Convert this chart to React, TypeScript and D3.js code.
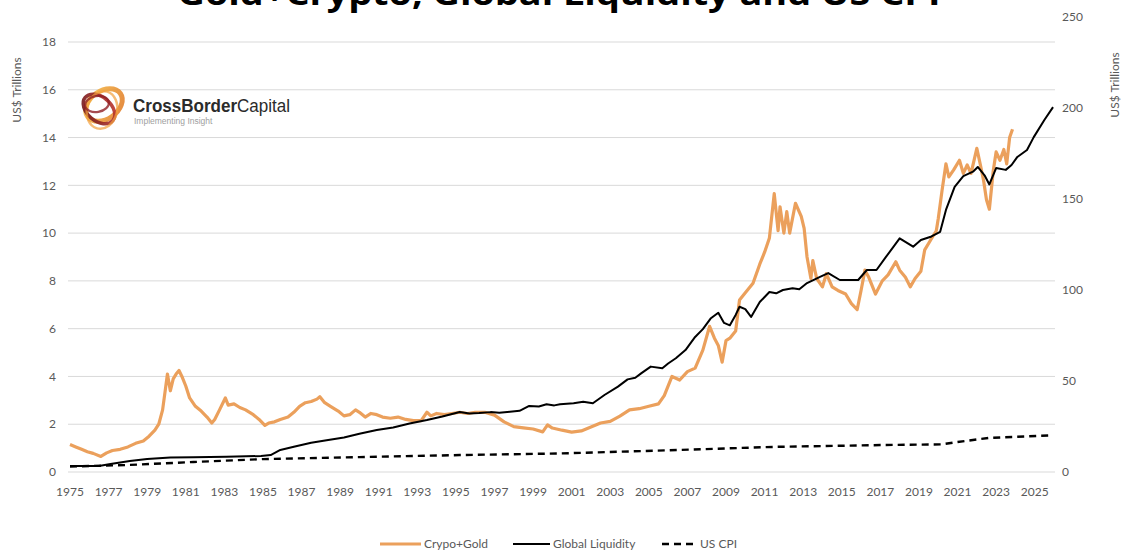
import React from "react";
import * as d3 from "d3";

// Crypto + gold market value, US$ trillions (left axis)
const cryptoGold: [number, number][] = [
  [1975.0, 1.15], [1975.3, 1.05], [1975.6, 0.95], [1975.9, 0.85], [1976.2, 0.78], [1976.6, 0.65],
  [1976.9, 0.8], [1977.2, 0.9], [1977.6, 0.95], [1978.0, 1.05], [1978.4, 1.2], [1978.8, 1.3],
  [1979.1, 1.5], [1979.4, 1.75], [1979.6, 2.0], [1979.8, 2.6], [1979.95, 3.5], [1980.05, 4.1],
  [1980.2, 3.4], [1980.35, 3.9], [1980.5, 4.1], [1980.65, 4.25], [1980.8, 4.0], [1981.0, 3.6],
  [1981.2, 3.1], [1981.5, 2.75], [1981.8, 2.55], [1982.1, 2.3], [1982.35, 2.05], [1982.5, 2.2],
  [1982.75, 2.6], [1983.05, 3.1], [1983.2, 2.8], [1983.5, 2.85], [1983.8, 2.7], [1984.1, 2.6],
  [1984.5, 2.4], [1984.8, 2.2], [1985.1, 1.95], [1985.3, 2.05], [1985.6, 2.1], [1985.9, 2.2],
  [1986.3, 2.3], [1986.6, 2.5], [1986.9, 2.75], [1987.2, 2.9], [1987.5, 2.95], [1987.8, 3.05],
  [1987.95, 3.15], [1988.2, 2.9], [1988.5, 2.75], [1988.9, 2.55], [1989.2, 2.35], [1989.5, 2.4],
  [1989.8, 2.6], [1990.0, 2.5], [1990.3, 2.3], [1990.6, 2.45], [1990.9, 2.4], [1991.2, 2.3],
  [1991.6, 2.25], [1992.0, 2.3], [1992.4, 2.2], [1992.8, 2.15], [1993.2, 2.15], [1993.5, 2.5],
  [1993.7, 2.35], [1994.0, 2.45], [1994.4, 2.4], [1994.8, 2.45], [1995.2, 2.5], [1995.6, 2.45],
  [1996.0, 2.5], [1996.5, 2.5], [1997.0, 2.38], [1997.5, 2.1], [1998.0, 1.9], [1998.5, 1.85],
  [1999.0, 1.8], [1999.5, 1.68], [1999.75, 1.97], [2000.0, 1.84], [2000.5, 1.75], [2001.0, 1.67],
  [2001.5, 1.72], [2002.0, 1.88], [2002.5, 2.05], [2003.0, 2.12], [2003.5, 2.34], [2004.0, 2.6],
  [2004.5, 2.65], [2005.0, 2.75], [2005.5, 2.85], [2005.8, 3.2], [2006.2, 4.0], [2006.6, 3.85],
  [2007.0, 4.2], [2007.4, 4.35], [2007.8, 5.1], [2008.15, 6.1], [2008.4, 5.6], [2008.6, 5.3],
  [2008.8, 4.6], [2009.0, 5.5], [2009.2, 5.6], [2009.5, 5.9], [2009.7, 7.2], [2010.0, 7.5],
  [2010.4, 7.9], [2010.75, 8.7], [2011.0, 9.2], [2011.25, 9.8], [2011.5, 11.65], [2011.7, 10.1],
  [2011.8, 11.1], [2012.0, 10.0], [2012.15, 10.9], [2012.3, 10.0], [2012.6, 11.25], [2012.9, 10.7],
  [2013.05, 10.2], [2013.2, 9.0], [2013.4, 8.1], [2013.5, 8.85], [2013.7, 8.1], [2014.0, 7.75],
  [2014.2, 8.3], [2014.5, 7.75], [2014.8, 7.6], [2015.2, 7.45], [2015.5, 7.05], [2015.8, 6.8],
  [2016.0, 7.6], [2016.2, 8.45], [2016.4, 8.15], [2016.75, 7.45], [2017.1, 8.0], [2017.4, 8.25],
  [2017.8, 8.8], [2018.0, 8.45], [2018.3, 8.15], [2018.55, 7.75], [2018.8, 8.1], [2019.1, 8.4],
  [2019.3, 9.3], [2019.6, 9.7], [2019.9, 10.1], [2020.0, 10.6], [2020.2, 11.8], [2020.4, 12.9],
  [2020.55, 12.35], [2020.8, 12.65], [2021.1, 13.05], [2021.3, 12.5], [2021.5, 12.85], [2021.7, 12.5],
  [2022.0, 13.55], [2022.2, 12.8], [2022.35, 12.2], [2022.5, 11.4], [2022.65, 11.0], [2022.85, 12.6],
  [2023.0, 13.4], [2023.2, 13.05], [2023.4, 13.5], [2023.55, 12.9], [2023.7, 14.0], [2023.85, 14.35],
];

// Global liquidity, US$ trillions (right axis)
const globalLiquidity: [number, number][] = [
  [1975.0, 3.3], [1976.5, 3.3], [1977.1, 4.4], [1978.1, 6.0], [1979.0, 7.1], [1980.2, 7.9],
  [1981.4, 8.1], [1983.1, 8.4], [1984.9, 8.8], [1985.4, 9.3], [1985.9, 12.1], [1986.6, 13.9],
  [1987.5, 16.1], [1988.3, 17.5], [1989.2, 19.0], [1990.0, 21.0], [1990.9, 23.1], [1991.75, 24.5],
  [1992.6, 26.7], [1993.5, 28.6], [1994.3, 30.5], [1995.2, 33.0], [1995.7, 32.2], [1996.2, 32.4],
  [1996.8, 32.9], [1997.25, 32.6], [1997.8, 33.1], [1998.3, 33.6], [1998.8, 36.3], [1999.3, 36.0],
  [1999.7, 37.2], [2000.1, 36.6], [2000.4, 37.2], [2001.1, 37.8], [2001.6, 38.6], [2002.1, 37.8],
  [2002.7, 42.3], [2003.4, 46.9], [2003.9, 50.9], [2004.3, 51.8], [2004.6, 54.2], [2005.1, 57.9],
  [2005.7, 57.0], [2006.0, 59.6], [2006.4, 62.5], [2006.9, 67.0], [2007.4, 74.2], [2007.8, 78.5],
  [2008.2, 84.3], [2008.6, 87.5], [2008.9, 81.9], [2009.2, 80.6], [2009.5, 86.3], [2009.7, 90.8],
  [2010.0, 89.5], [2010.3, 85.2], [2010.75, 93.4], [2011.25, 98.9], [2011.6, 98.2], [2011.95, 100.0],
  [2012.45, 101.0], [2012.8, 100.4], [2013.2, 103.8], [2013.9, 107.3], [2014.3, 109.3],
  [2014.9, 105.5], [2015.4, 105.5], [2015.85, 105.5], [2016.3, 111.0], [2016.8, 111.0],
  [2017.3, 118.3], [2018.0, 128.4], [2018.7, 123.8], [2019.1, 127.5], [2019.65, 129.4],
  [2020.1, 132.0], [2020.4, 144.0], [2020.85, 156.7], [2021.3, 162.6], [2021.8, 165.0],
  [2022.05, 167.6], [2022.4, 163.0], [2022.65, 158.0], [2023.0, 167.0], [2023.5, 166.0],
  [2023.8, 168.7], [2024.1, 173.1], [2024.6, 176.9], [2024.95, 184.0], [2025.5, 193.4],
  [2025.95, 200.5],
];

// US consumer price index (right axis)
const usCpi: [number, number][] = [
  [1975.0, 3.0], [1977.9, 3.8], [1981.4, 5.5], [1985.0, 7.1], [1990.0, 8.2], [1995.2, 9.3],
  [2000.4, 10.2], [2005.9, 11.9], [2011.5, 13.8], [2017.0, 14.8], [2020.2, 15.2], [2020.8, 16.2],
  [2022.6, 18.7], [2025.8, 20.1],
];

const leftTicks = [0, 2, 4, 6, 8, 10, 12, 14, 16, 18];
const rightTicks = [0, 50, 100, 150, 200, 250];
const yearTicks = d3.range(1975, 2026, 2);

const titleText = "Gold+Crypto, Global Liquidity and US CPI";
const axisTitle = "US$ Trillions";
const legendItems = [
  { label: "Crypo+Gold", color: "#eba05c", width: 3.2, dash: "" },
  { label: "Global Liquidity", color: "#000000", width: 2, dash: "" },
  { label: "US CPI", color: "#000000", width: 2.4, dash: "7,5" },
];

const W = 1122;
const H = 550;
const FONT = "Lato, 'Open Sans', sans-serif";
const GRAY = "#595959";

function Logo() {
  const cx = 101;
  const cy = 107;
  return (
    <g>
      <defs>
        <linearGradient id="lg1" x1="0" y1="0" x2="1" y2="1">
          <stop offset="0" stopColor="#f7c04a" />
          <stop offset="1" stopColor="#e07b2a" />
        </linearGradient>
        <linearGradient id="lg2" x1="0" y1="1" x2="1" y2="0">
          <stop offset="0" stopColor="#6b1419" />
          <stop offset="1" stopColor="#c2372e" />
        </linearGradient>
      </defs>
      <ellipse cx={cx + 3} cy={cy - 2} rx={20} ry={14} transform={`rotate(-35 ${cx + 3} ${cy - 2})`} fill="none" stroke="url(#lg1)" strokeWidth={5} opacity={0.9} />
      <ellipse cx={cx - 2} cy={cy + 2} rx={18} ry={12} transform={`rotate(40 ${cx - 2} ${cy + 2})`} fill="none" stroke="url(#lg2)" strokeWidth={3.5} opacity={0.9} />
      <ellipse cx={cx + 1} cy={cy + 3} rx={15} ry={19} transform={`rotate(15 ${cx + 1} ${cy + 3})`} fill="none" stroke="#f2a03d" strokeWidth={2.5} opacity={0.7} />
      <ellipse cx={cx - 4} cy={cy - 3} rx={12} ry={8} transform={`rotate(-10 ${cx - 4} ${cy - 3})`} fill="none" stroke="#8e1e24" strokeWidth={2.2} opacity={0.8} />
      <text x={133} y={112} fontFamily="'Liberation Sans', Arial, sans-serif" fontSize={17.5} fill="#2b2b2b" textLength={157} lengthAdjust="spacingAndGlyphs">
        <tspan fontWeight="bold">CrossBorder</tspan>
        <tspan>Capital</tspan>
      </text>
      <text x={134} y={124} fontFamily="'Liberation Sans', Arial, sans-serif" fontSize={8.5} fill="#a0a0a0">
        Implementing Insight
      </text>
    </g>
  );
}

export default function App() {
  const x = d3.scaleLinear().domain([1975, 2026]).range([70, 1054]);
  const yL = d3.scaleLinear().domain([0, 18]).range([472, 42]);
  const yR = d3.scaleLinear().domain([0, 250]).range([472, 17]);

  const lineL = d3
    .line<[number, number]>()
    .x((d) => x(d[0]))
    .y((d) => yL(d[1]));
  const lineR = d3
    .line<[number, number]>()
    .x((d) => x(d[0]))
    .y((d) => yR(d[1]));

  const legendPos = [
    { x0: 380, x1: 421 },
    { x0: 513, x1: 550 },
    { x0: 662, x1: 697 },
  ];

  return (
    <div style={{ position: "absolute", left: 0, top: 0, width: W, height: H, background: "#fff" }}>
      <svg width={W} height={H} style={{ display: "block" }}>
        <rect width={W} height={H} fill="#fff" />
        <text x={559} y={5} textAnchor="middle" fontFamily="'Open Sans', sans-serif" fontWeight="bold" fontSize={32} fill="#000" textLength={763} lengthAdjust="spacingAndGlyphs">
          {titleText}
        </text>

        {/* gridlines */}
        {leftTicks.map((t) => (
          <line key={t} x1={68} x2={1055} y1={yL(t)} y2={yL(t)} stroke="#d9d9d9" strokeWidth={1} />
        ))}

        {/* left axis labels */}
        {leftTicks.map((t) => (
          <text key={t} x={56} y={yL(t)} dy="0.35em" textAnchor="end" fontFamily={FONT} fontSize={12} fill={GRAY}>
            {t}
          </text>
        ))}

        {/* right axis labels */}
        {rightTicks.map((t) => (
          <text key={t} x={1062} y={yR(t)} dy="0.35em" textAnchor="start" fontFamily={FONT} fontSize={12} fill={GRAY}>
            {t}
          </text>
        ))}

        {/* year labels */}
        {yearTicks.map((yr) => (
          <text key={yr} x={x(yr)} y={492} dy="0.35em" textAnchor="middle" fontFamily={FONT} fontSize={12} fill={GRAY}>
            {yr}
          </text>
        ))}

        {/* axis titles */}
        <text transform="translate(21,90) rotate(-90)" textAnchor="middle" fontFamily={FONT} fontSize={12} fill={GRAY}>
          {axisTitle}
        </text>
        <text transform="translate(1119,85) rotate(-90)" textAnchor="middle" fontFamily={FONT} fontSize={12} fill={GRAY}>
          {axisTitle}
        </text>

        <Logo />

        {/* series */}
        <path d={lineR(usCpi) ?? ""} fill="none" stroke="#000" strokeWidth={2.4} strokeDasharray="7,5" />
        <path d={lineL(cryptoGold) ?? ""} fill="none" stroke="#eba05c" strokeWidth={3.2} strokeLinejoin="round" />
        <path d={lineR(globalLiquidity) ?? ""} fill="none" stroke="#000" strokeWidth={2} strokeLinejoin="round" />

        {/* legend */}
        {legendItems.map((it, i) => (
          <g key={it.label}>
            <line x1={legendPos[i].x0} x2={legendPos[i].x1} y1={544} y2={544} stroke={it.color} strokeWidth={it.width} strokeDasharray={it.dash || undefined} />
            <text x={legendPos[i].x1 + 3} y={544} dy="0.35em" fontFamily={FONT} fontSize={12} fill={GRAY}>
              {it.label}
            </text>
          </g>
        ))}
      </svg>
    </div>
  );
}
